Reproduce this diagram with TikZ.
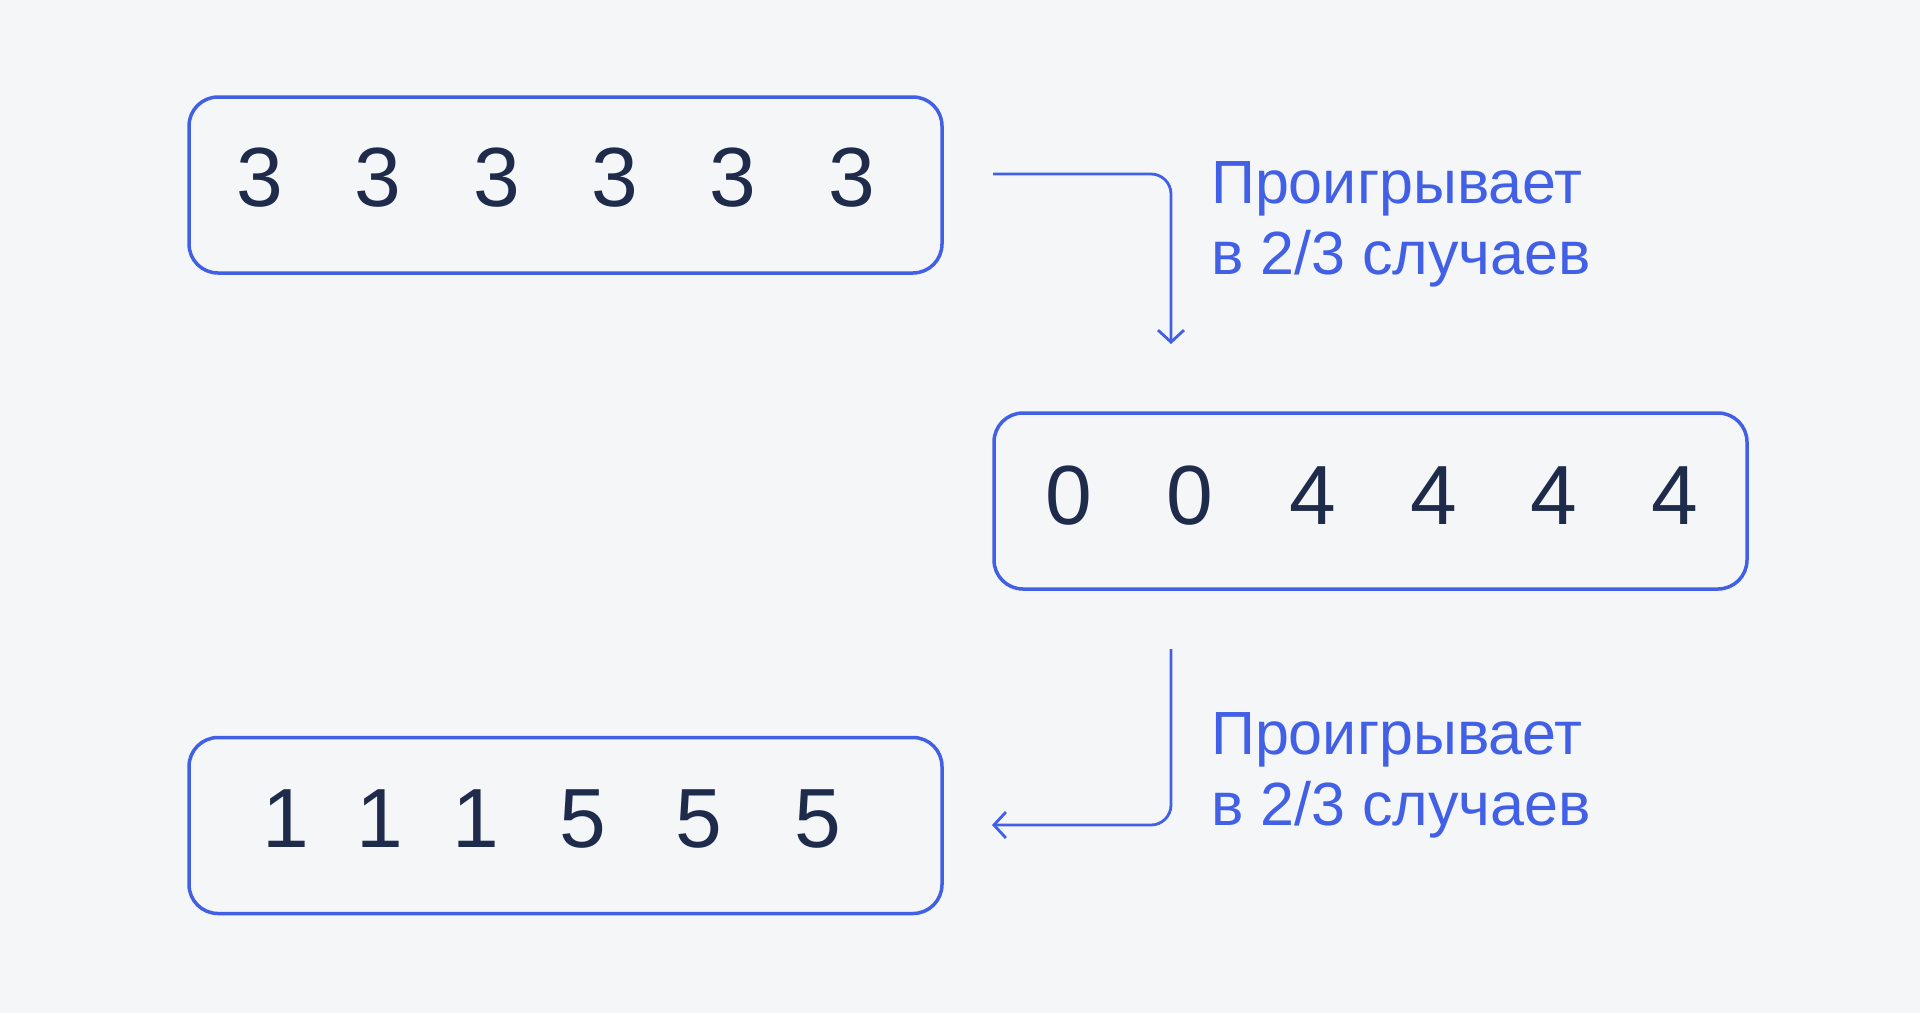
\documentclass[tikz,border=0pt]{standalone}
\usepackage{fontspec}
\setmainfont{Liberation Sans}
\usetikzlibrary{arrows.meta}
\definecolor{bg}{RGB}{244,246,248}
\definecolor{bluec}{RGB}{66,96,230}
\definecolor{navy}{RGB}{30,43,74}
\tikzset{
  numbox/.style={draw=bluec, line width=3.5pt, rounded corners=29pt, minimum width=753pt, minimum height=176pt, inner sep=0pt},
  digit/.style={text=navy, inner sep=0pt, font=\fontsize{84}{84}\selectfont},
  lbl/.style={text=bluec, inner sep=0pt, anchor=base west, align=left, font=\fontsize{61}{71}\selectfont},
  flow/.style={draw=bluec, line width=2.8pt, rounded corners=20pt, -{Straight Barb[length=12pt,width=26pt,line width=2.8pt]}}
}
\begin{document}
\begin{tikzpicture}[x=1pt,y=-1pt]
\useasboundingbox[fill=bg] (0,0) rectangle (1920,1013);
\node[numbox] (b1) at (565.5,185) {};
\node[numbox] (b2) at (1370.5,501) {};
\node[numbox] (b3) at (565.5,825.5) {};
\foreach \x [count=\i] in {260,378,497,615,733,852} \node[digit] (d1\i) at (\x,178) {3};
\foreach \x/\d [count=\i] in {1069/0,1190/0,1313/4,1434/4,1554/4,1675/4} \node[digit] (d2\i) at (\x,496) {\d};
\foreach \x/\d [count=\i] in {286/1,380/1,476/1,583/5,699/5,818/5} \node[digit] (d3\i) at (\x,819) {\d};
\coordinate (s1) at (993,174);
\coordinate (c1) at (1171,174);
\coordinate (e1) at (1171,344);
\coordinate (s2) at (1171,649);
\coordinate (c2) at (1171,825);
\coordinate (e2) at (992,825);
\draw[flow] (s1) -- (c1) -- (e1);
\draw[flow] (s2) -- (c2) -- (e2);
\node[lbl] (t1) at (1211,274) {Проигрывает\\в 2/3 случаев};
\node[lbl] (t2) at (1211,825) {Проигрывает\\в 2/3 случаев};
\end{tikzpicture}
\end{document}
